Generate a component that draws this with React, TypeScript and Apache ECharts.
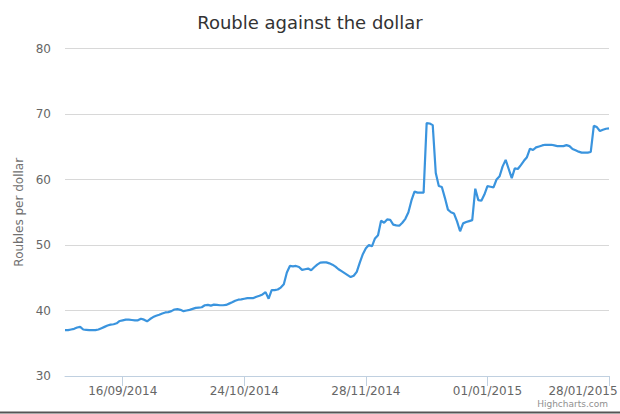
import React, { useEffect, useRef } from "react";
import * as echarts from "echarts";

const titleText = "Rouble against the dollar";
const yAxisTitle = "Roubles per dollar";
const creditText = "Highcharts.com";

// Rouble per dollar, one value per category
const rates: number[] = [
  37.0, 37.0, 37.1, 37.2, 37.4, 37.5, 37.1, 37.05, 37.0, 37.0,
  37.0, 37.1, 37.3, 37.5, 37.7, 37.85, 37.9, 38.05, 38.4, 38.5,
  38.6, 38.6, 38.55, 38.5, 38.5, 38.75, 38.6, 38.35, 38.7, 39.0,
  39.2, 39.35, 39.55, 39.7, 39.75, 39.9, 40.15, 40.2, 40.1, 39.9,
  40.0, 40.1, 40.25, 40.4, 40.45, 40.5, 40.8, 40.85, 40.75, 40.9,
  40.85, 40.8, 40.8, 40.85, 41.05, 41.25, 41.5, 41.65, 41.7, 41.8,
  41.9, 41.9, 41.9, 42.1, 42.25, 42.45, 42.8, 41.8, 43.1, 43.1,
  43.2, 43.5, 44.0, 45.8, 46.8, 46.75, 46.8, 46.65, 46.2, 46.3,
  46.4, 46.15, 46.6, 47.0, 47.3, 47.35, 47.35, 47.2, 47.0, 46.7,
  46.3, 46.0, 45.7, 45.4, 45.1, 45.3, 45.9, 47.3, 48.6, 49.5,
  50.0, 49.8, 51.0, 51.5, 53.7, 53.4, 53.9, 53.85, 53.1, 53.0,
  52.95, 53.4, 54.0, 55.0, 56.8, 58.15, 58.0, 58.0, 58.0, 68.6,
  68.55, 68.3, 61.0, 59.0, 58.85, 57.2, 55.4, 55.0, 54.8, 53.6,
  52.1, 53.3, 53.5, 53.65, 53.8, 58.6, 56.85, 56.75, 57.7, 59.0,
  58.9, 58.8, 60.0, 60.5, 62.0, 63.0, 61.6, 60.2, 61.7, 61.6,
  62.2, 62.85, 63.4, 64.7, 64.5, 64.9, 65.05, 65.2, 65.3, 65.3,
  65.3, 65.2, 65.1, 65.1, 65.1, 65.25, 65.1, 64.65, 64.45, 64.25,
  64.1, 64.1, 64.1, 64.2, 68.2, 68.0, 67.4, 67.6, 67.75, 67.8,
];

// Tick labels and the category index each one belongs to
const tickLabels: string[] = ["16/09/2014", "24/10/2014", "28/11/2014", "01/01/2015", "28/01/2015"];
const tickIndex: number[] = [19, 59, 99, 139, 179];

const yMin = 30;
const yMax = 80;
const yStep = 10;

export default function App() {
  const ref = useRef<HTMLDivElement>(null);

  useEffect(() => {
    if (!ref.current) return;
    const chart = echarts.init(ref.current, undefined, { renderer: "svg" });
    const categories = rates.map((_, i) => {
      const k = tickIndex.indexOf(i);
      return k >= 0 ? tickLabels[k] : "";
    });
    const lastIdx = tickIndex[tickIndex.length - 1];
    const showAt = (i: number) => tickIndex.includes(i);
    const font = "'DejaVu Sans', Verdana, sans-serif";

    chart.setOption({
      animation: false,
      backgroundColor: "#ffffff",
      textStyle: { fontFamily: font },
      title: {
        text: titleText,
        left: "center",
        top: 8,
        textStyle: { fontSize: 18, fontWeight: "normal", color: "#333333", fontFamily: font },
      },
      grid: {
        left: 65,
        right: 11,
        top: 48.5,
        bottom: 38,
        containLabel: false,
        outerBoundsMode: "none",
      },
      xAxis: {
        type: "category",
        boundaryGap: false,
        data: categories,
        axisLine: { show: true, lineStyle: { color: "#C0D0E0", width: 1 } },
        axisTick: {
          show: true,
          interval: (i: number) => showAt(i),
          length: 10,
          lineStyle: { color: "#C0D0E0", width: 1 },
        },
        axisLabel: {
          interval: (i: number) => showAt(i),
          color: "#666666",
          fontSize: 12,
          fontFamily: font,
          margin: 9,
          formatter: (v: string, i: number) => (i === lastIdx ? `{last|${v}}` : v),
          rich: {
            last: { fontSize: 12, fontFamily: font, color: "#666666", padding: [0, 52, 0, 0] },
          },
        },
        splitLine: { show: false },
      },
      yAxis: {
        type: "value",
        min: yMin,
        max: yMax,
        interval: yStep,
        name: yAxisTitle,
        nameLocation: "middle",
        nameRotate: 90,
        nameGap: 35,
        nameTextStyle: { color: "#707070", fontSize: 12, fontFamily: font },
        axisLine: { show: false },
        axisTick: { show: false },
        axisLabel: { color: "#666666", fontSize: 12, fontFamily: font, margin: 14 },
        splitLine: { show: true, lineStyle: { color: "#D8D8D8", width: 1 } },
      },
      series: [
        {
          type: "line",
          data: rates,
          showSymbol: false,
          smooth: false,
          lineStyle: { color: "#3a94de", width: 2.2 },
          itemStyle: { color: "#3a94de" },
        },
      ],
      graphic: [
        {
          type: "text",
          right: 12,
          top: 399,
          style: { text: creditText, fontSize: 9, fill: "#909090", fontFamily: font },
        },
        {
          type: "rect",
          left: 0,
          top: 411.5,
          shape: { width: 620, height: 2 },
          style: { fill: "#555555" },
        },
      ],
    });
    return () => chart.dispose();
  }, []);

  return (
    <div
      ref={ref}
      style={{ position: "fixed", left: 0, top: 0, width: 620, height: 414, background: "#fff" }}
    />
  );
}
